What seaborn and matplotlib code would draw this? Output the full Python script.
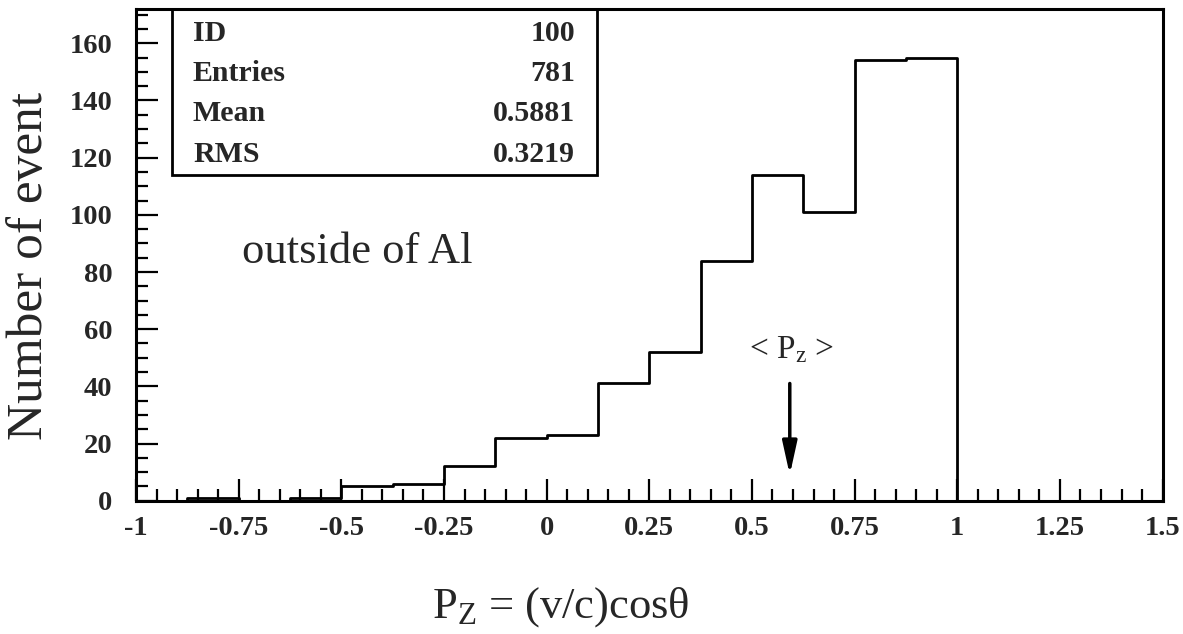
import numpy as np
import pandas as pd
import seaborn as sns
import matplotlib
matplotlib.use("Agg")
import matplotlib.pyplot as plt
from matplotlib.ticker import MultipleLocator, FixedLocator, FixedFormatter
from matplotlib.patches import Rectangle

# ---- data ----
bin_edges = [-1.0, -0.875, -0.75, -0.625, -0.5, -0.375, -0.25, -0.125,
             0.0, 0.125, 0.25, 0.375, 0.5, 0.625, 0.75, 0.875, 1.0,
             1.125, 1.25, 1.375, 1.5]
counts = [0, 1, 0, 1, 5, 6, 12, 22, 23, 41, 52, 84, 114, 101, 154, 155,
          0, 0, 0, 0]
xtick_vals = [-1, -0.75, -0.5, -0.25, 0, 0.25, 0.5, 0.75, 1, 1.25, 1.5]
xtick_labels = ["-1", "-0.75", "-0.5", "-0.25", "0", "0.25", "0.5", "0.75", "1", "1.25", "1.5"]
ytick_vals = [0, 20, 40, 60, 80, 100, 120, 140, 160]
stat_names = ["ID", "Entries", "Mean", "RMS"]
stat_values = ["100", "781", "0.5881", "0.3219"]
mean_pz = 0.5881

centers = [(a + b) / 2 for a, b in zip(bin_edges[:-1], bin_edges[1:])]
df = pd.DataFrame({"pz": centers, "n": counts})

sns.set_style("white")
plt.rcParams["font.family"] = ["Liberation Serif", "DejaVu Serif"]
plt.rcParams["mathtext.fontset"] = "custom"
plt.rcParams["mathtext.rm"] = "Liberation Serif"

fig = plt.figure(figsize=(11.83, 6.34), dpi=100)
ax = fig.add_axes([136 / 1183, 1 - 500.7 / 634, 1026.6 / 1183, 491.4 / 634])

sns.histplot(data=df, x="pz", weights="n", bins=bin_edges, element="step",
             fill=False, color="black", linewidth=2.0, ax=ax)

ax.set_xlim(-1, 1.5)
ax.set_ylim(0, 171.9)

for s in ax.spines.values():
    s.set_visible(True)
    s.set_linewidth(2.2)
    s.set_color("black")

ax.xaxis.set_major_locator(FixedLocator(xtick_vals))
ax.xaxis.set_major_formatter(FixedFormatter(xtick_labels))
ax.xaxis.set_minor_locator(MultipleLocator(0.05))
ax.yaxis.set_major_locator(FixedLocator(ytick_vals))
ax.yaxis.set_minor_locator(MultipleLocator(5))

ax.tick_params(axis="both", which="both", direction="in", color="black",
               top=False, right=False, bottom=True, left=True)
ax.tick_params(axis="both", which="major", length=16, width=1.6)
ax.tick_params(axis="both", which="minor", length=8.5, width=1.6)
ax.tick_params(axis="x", which="major", pad=11)
ax.tick_params(axis="y", which="major", pad=17)
for lab in ax.get_xticklabels() + ax.get_yticklabels():
    lab.set_fontweight("bold")
    lab.set_fontsize(20.5)

ax.set_xlabel("")
ax.set_ylabel("")

fig.text(30 / 1183, 1 - 266 / 634, "Number of event", rotation=90,
         ha="center", va="center", fontsize=37)
fig.text(561 / 1183, 1 - 618 / 634, r"$\mathregular{P_Z}$ = (v/c)cosθ",
         ha="center", va="baseline", fontsize=32)

# stats box
ax.add_patch(Rectangle((0.0348, 0.663), 0.4488 - 0.0348, 1.0 - 0.663,
                       transform=ax.transAxes, fill=False, lw=2.0,
                       edgecolor="black", zorder=5))
row_y = [0.9356, 0.8542, 0.7728, 0.690]
for name, val, yy in zip(stat_names, stat_values, row_y):
    ax.text(0.0555, yy, name, transform=ax.transAxes, ha="left", va="baseline",
            fontsize=21.5, fontweight="bold")
    ax.text(0.4276, yy, val, transform=ax.transAxes, ha="right", va="baseline",
            fontsize=21.5, fontweight="bold")

ax.text(-0.743, 83.1, "outside of Al", ha="left", va="baseline", fontsize=32)

ax.annotate("", xy=(mean_pz + 0.004, 9), xytext=(mean_pz + 0.004, 41),
            arrowprops=dict(arrowstyle="-|>,head_length=1.0,head_width=0.22",
                            mutation_scale=20, lw=2.5, color="black",
                            shrinkA=0, shrinkB=0))
ax.text(mean_pz + 0.008, 52.7, r"< $\mathregular{P_z}$ >", ha="center",
        va="center", fontsize=24)

fig.savefig("out.png", dpi=100)
